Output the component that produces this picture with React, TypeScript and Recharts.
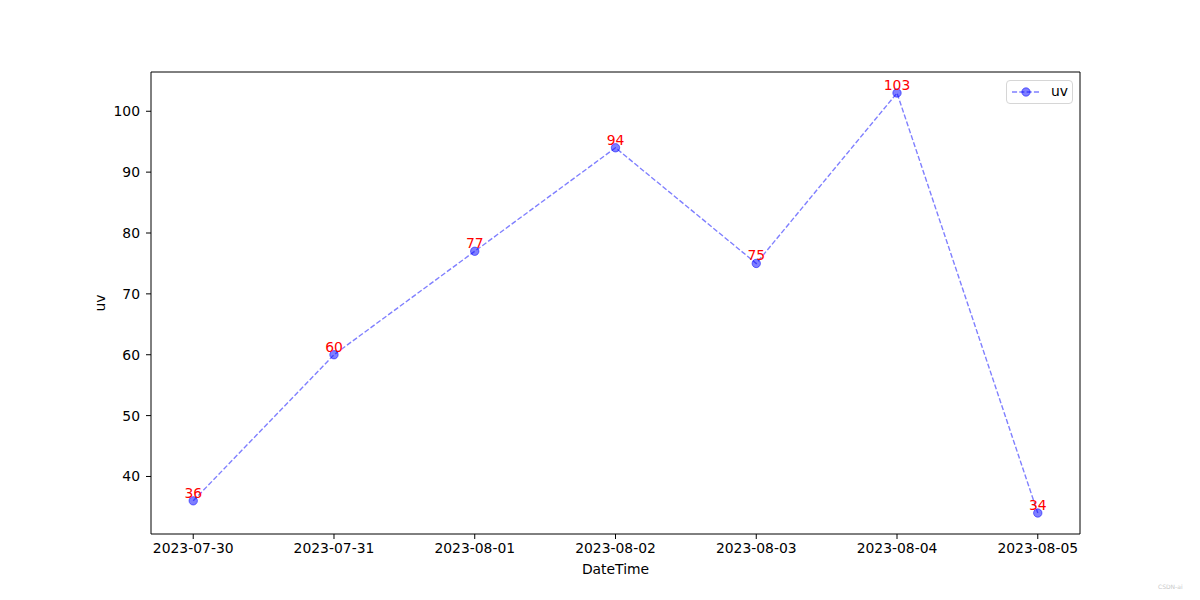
import React from 'react';
import {
  LineChart,
  Line,
  XAxis,
  YAxis,
  ReferenceLine,
  LabelList,
} from 'recharts';

const dates = ['2023-07-30', '2023-07-31', '2023-08-01', '2023-08-02', '2023-08-03', '2023-08-04', '2023-08-05'];
const uv = [36, 60, 77, 94, 75, 103, 34];
const yTicks = [40, 50, 60, 70, 80, 90, 100];
const xTicks = [0, 1, 2, 3, 4, 5, 6];

const data = dates.map((d, i) => ({ idx: i, date: d, uv: uv[i] }));

const FONT = 'DejaVu Sans, sans-serif';
const Y_DOMAIN: [number, number] = [30.55, 106.45];
const X_DOMAIN: [number, number] = [-0.3, 6.3];

const PointLabel = (props: any) => {
  const { x, y, value } = props;
  return (
    <text x={x} y={y - 3} textAnchor="middle" fill="red" fontSize={13.9} fontFamily={FONT}>
      {value}
    </text>
  );
};

const Legend = () => (
  <div
    style={{
      position: 'absolute',
      left: 1006,
      top: 80,
      width: 65,
      height: 22,
      border: '1px solid #d6d6d6',
      borderRadius: 4,
      background: 'rgba(255,255,255,0.8)',
      boxSizing: 'content-box',
      fontFamily: FONT,
      fontSize: 13.9,
    }}
  >
    <svg width={40} height={22} style={{ position: 'absolute', left: 0, top: 0 }}>
      <line x1={5} y1={11} x2={33} y2={11} stroke="blue" strokeOpacity={0.5} strokeWidth={1.39} strokeDasharray="5.1 2.2" />
      <circle cx={19} cy={11} r={4.2} fill="blue" fillOpacity={0.5} stroke="blue" strokeOpacity={0.5} />
    </svg>
    <span style={{ position: 'absolute', left: 44, top: 2 }}>uv</span>
  </div>
);

export default function App() {
  return (
    <div style={{ position: 'absolute', left: 0, top: 0, width: 1200, height: 600, background: '#fff' }}>
      <LineChart width={1200} height={600} data={data} margin={{ top: 72, right: 120, bottom: 0, left: 0 }}>
        <XAxis
          dataKey="idx"
          type="number"
          domain={X_DOMAIN}
          ticks={xTicks}
          tickFormatter={(v: number) => dates[v]}
          height={66}
          stroke="#000"
          tickSize={5}
          tickMargin={4}
          tick={{ fill: '#000', fontSize: 13.9, fontFamily: FONT }}
          allowDataOverflow
          label={{
            content: ({ viewBox }: any) => (
              <text
                x={viewBox.x + viewBox.width / 2}
                y={viewBox.y + 40}
                textAnchor="middle"
                fontSize={13.9}
                fontFamily={FONT}
                fill="#000"
              >
                DateTime
              </text>
            ),
          }}
        />
        <YAxis
          type="number"
          domain={Y_DOMAIN}
          ticks={yTicks}
          width={151}
          stroke="#000"
          tickSize={5}
          tickMargin={6}
          tick={{ fill: '#000', fontSize: 13.9, fontFamily: FONT }}
          allowDataOverflow
          label={{
            content: ({ viewBox }: any) => {
              const cx = 105;
              const cy = viewBox.y + viewBox.height / 2;
              return (
                <text
                  x={cx}
                  y={cy}
                  textAnchor="middle"
                  fontSize={13.9}
                  fontFamily={FONT}
                  fill="#000"
                  transform={`rotate(-90 ${cx} ${cy})`}
                >
                  uv
                </text>
              );
            },
          }}
        />
        <ReferenceLine y={Y_DOMAIN[1]} stroke="#000" strokeWidth={1} />
        <ReferenceLine x={X_DOMAIN[1]} stroke="#000" strokeWidth={1} />
        <Line
          type="linear"
          dataKey="uv"
          stroke="blue"
          strokeOpacity={0.5}
          strokeWidth={1.39}
          strokeDasharray="5.1 2.2"
          dot={{ r: 4.2, fill: 'blue', fillOpacity: 0.5, stroke: 'blue', strokeOpacity: 0.5, strokeWidth: 1, strokeDasharray: '' }}
          activeDot={false}
          isAnimationActive={false}
        >
          <LabelList dataKey="uv" content={PointLabel} />
        </Line>
      </LineChart>
      <Legend />
      <div
        style={{
          position: 'absolute',
          left: 1158,
          top: 583,
          fontSize: 6,
          color: '#c8c8c8',
          fontFamily: FONT,
        }}
      >
        CSDN-ai
      </div>
    </div>
  );
}
